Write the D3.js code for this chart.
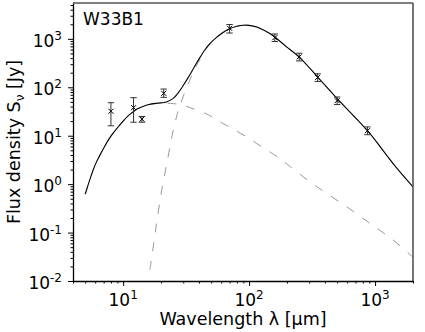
<!DOCTYPE html>
<html><head><meta charset="utf-8">
<script src="https://cdn.jsdelivr.net/npm/d3@7/dist/d3.min.js"></script>
<style>body{margin:0;background:#fff}svg{display:block}text{font-family:"DejaVu Sans",sans-serif}</style>
</head><body><svg id="c" width="425" height="332"></svg>
<script>
// Observed photometry
const obsLam  = [8, 12.1, 14.1, 21, 70, 160, 250, 350, 500, 870];
const obsFlux = [32, 38, 22, 75, 1650, 1060, 425, 160, 53, 12.7];
const obsLo   = [16, 19, 19, 62, 1320, 880, 350, 132, 44, 10.5];
const obsHi   = [48, 61, 25, 92, 1980, 1260, 505, 190, 63, 15.2];
// Total model (solid)
const totLam = [5, 5.5, 6, 7, 8, 10, 11, 12, 13, 14, 16, 18, 20, 22, 25, 27, 29.3, 33, 37, 41, 45, 49, 54, 62, 70, 80, 90, 100, 115, 129, 145, 160, 196, 250, 350, 500, 870, 1400, 2000];
const totS   = [0.62, 1.35, 2.5, 5.5, 9.8, 20, 26, 31, 36, 39, 44, 46.5, 47.6, 49.8, 59, 73, 99, 162, 273, 424, 616, 803, 1022, 1350, 1620, 1820, 1910, 1900, 1760, 1540, 1300, 1090, 700, 420, 163, 58, 12.7, 2.6, 0.88];
// Warm component (dashed)
const warmLam = [5, 5.5, 6, 7, 8, 10, 11, 12, 13, 14, 16, 18, 20, 22, 25, 27.6, 35, 47.7, 54, 70, 93.5, 130, 175, 210, 297, 402, 555, 752, 1000, 1374, 2000];
const warmS   = [0.62, 1.35, 2.5, 5.5, 9.8, 20, 26, 31, 36, 39, 43.5, 45.7, 46.8, 47, 46, 44.6, 37, 26.8, 22, 15, 9.8, 5.6, 3.4, 2.35, 1.17, 0.674, 0.386, 0.221, 0.13, 0.072, 0.031];
// Cold component (dashed)
const coldLam = [16.3, 17.5, 18.6, 20.3, 22.3, 24.4, 26.8, 29.3, 33, 37, 41, 45, 49, 54, 62, 70, 80, 90, 100, 115, 129, 145, 160, 196, 250, 350, 500, 870, 1400, 2000];
const coldS   = [0.0169, 0.060, 0.183, 0.79, 2.8, 9.7, 27, 55, 121, 235, 390, 585, 775, 1000, 1330, 1605, 1805, 1900, 1890, 1755, 1535, 1297, 1088, 698, 418, 162, 58, 12.7, 2.6, 0.88];
// Axes
const xMajor = [10, 100, 1000], xExp = ["1", "2", "3"];
const yMajor = [0.01, 0.1, 1, 10, 100, 1000], yExp = ["-2", "-1", "0", "1", "2", "3"];
const xDomain = [4, 2000], yDomain = [0.01, 5500];
const label = "W33B1";

const W = 425, H = 332, m = {l: 73, r: 12, t: 3, b: 51};
const svg = d3.select("#c");
const x = d3.scaleLog().domain(xDomain).range([m.l, W - m.r]);
const y = d3.scaleLog().domain(yDomain).range([H - m.b, m.t]);

function minorTicks(dom) {
  const out = [];
  for (let e = -3; e <= 4; e++) for (let k = 1; k <= 9; k++) {
    const v = k * Math.pow(10, e);
    if (v >= dom[0] * 0.9999 && v <= dom[1] * 1.0001) out.push(v);
  }
  return out;
}
const xMinor = minorTicks(xDomain).filter(v => !xMajor.some(M => Math.abs(M - v) / M < 1e-6));
const yMinor = minorTicks(yDomain).filter(v => !yMajor.some(M => Math.abs(M - v) / M < 1e-6));

svg.append("clipPath").attr("id", "pc").append("rect")
  .attr("x", m.l).attr("y", m.t).attr("width", W - m.l - m.r).attr("height", H - m.t - m.b);
const g = svg.append("g").attr("clip-path", "url(#pc)");

const line = d3.line().x(d => x(d[0])).y(d => y(d[1])).curve(d3.curveCatmullRom.alpha(0.5));
const zip = (a, b) => a.map((v, i) => [v, b[i]]);

g.append("path").datum(zip(coldLam, coldS)).attr("d", line)
  .attr("fill", "none").attr("stroke", "#999").attr("stroke-width", 1).attr("stroke-dasharray", "9,10");
g.append("path").datum(zip(warmLam, warmS)).attr("d", line)
  .attr("fill", "none").attr("stroke", "#999").attr("stroke-width", 1).attr("stroke-dasharray", "9,10");
g.append("path").datum(zip(totLam, totS)).attr("d", line)
  .attr("fill", "none").attr("stroke", "#000").attr("stroke-width", 1.1);

// error bars and markers
const pts = obsLam.map((l, i) => ({l, f: obsFlux[i], lo: obsLo[i], hi: obsHi[i]}));
const pg = g.append("g").attr("stroke", "#333").attr("stroke-width", 1).attr("fill", "none");
pts.forEach(p => {
  const cx = x(p.l), cy = y(p.f), y1 = y(p.lo), y2 = y(p.hi), cw = 3.2, s = 2.5;
  pg.append("line").attr("x1", cx).attr("x2", cx).attr("y1", y1).attr("y2", y2);
  pg.append("line").attr("x1", cx - cw).attr("x2", cx + cw).attr("y1", y1).attr("y2", y1);
  pg.append("line").attr("x1", cx - cw).attr("x2", cx + cw).attr("y1", y2).attr("y2", y2);
  pg.append("line").attr("x1", cx - s).attr("x2", cx + s).attr("y1", cy - s).attr("y2", cy + s).attr("stroke", "#000");
  pg.append("line").attr("x1", cx - s).attr("x2", cx + s).attr("y1", cy + s).attr("y2", cy - s).attr("stroke", "#000");
});

// spines
svg.append("line").attr("x1", m.l).attr("x2", W - m.r).attr("y1", m.t).attr("y2", m.t).attr("stroke", "#555").attr("stroke-width", 1.6);
svg.append("line").attr("x1", W - m.r).attr("x2", W - m.r).attr("y1", m.t).attr("y2", H - m.b).attr("stroke", "#555").attr("stroke-width", 1.6);

// axes
const ax = svg.append("g").attr("transform", `translate(0,${H - m.b})`);
ax.call(d3.axisBottom(x).tickValues(xMinor).tickSize(2.5).tickFormat("").tickSizeOuter(0));
ax.call(g2 => g2.select(".domain").remove());
const axM = svg.append("g").attr("transform", `translate(0,${H - m.b})`);
axM.call(d3.axisBottom(x).tickValues(xMajor).tickSize(5).tickFormat("").tickSizeOuter(0));
axM.select(".domain").attr("stroke", "#000").attr("stroke-width", 1.3);
const ay = svg.append("g").attr("transform", `translate(${m.l},0)`);
ay.call(d3.axisLeft(y).tickValues(yMinor).tickSize(2.5).tickFormat("").tickSizeOuter(0));
ay.call(g2 => g2.select(".domain").remove());
const ayM = svg.append("g").attr("transform", `translate(${m.l},0)`);
ayM.call(d3.axisLeft(y).tickValues(yMajor).tickSize(5).tickFormat("").tickSizeOuter(0));
ayM.select(".domain").attr("stroke", "#000").attr("stroke-width", 1.3);
svg.selectAll(".tick line").attr("stroke", "#000");

const fs = 17, sfs = 12;
xMajor.forEach((v, i) => {
  const t = svg.append("text").attr("x", x(v)).attr("y", H - m.b + 25).attr("text-anchor", "middle").attr("font-size", fs);
  t.append("tspan").text("10");
  t.append("tspan").attr("dy", -7).attr("font-size", sfs).text(xExp[i]);
});
yMajor.forEach((v, i) => {
  const t = svg.append("text").attr("x", m.l - 11).attr("y", y(v) + 8).attr("text-anchor", "end").attr("font-size", fs);
  t.append("tspan").text("10");
  t.append("tspan").attr("dy", -7).attr("font-size", sfs).text(yExp[i]);
});

// labels
svg.append("text").attr("x", (m.l + W - m.r) / 2).attr("y", 325).attr("text-anchor", "middle").attr("font-size", 17.5)
  .text("Wavelength λ [μm]");
const yl = svg.append("text").attr("transform", `translate(20,${(m.t + H - m.b) / 2}) rotate(-90)`).attr("text-anchor", "middle").attr("font-size", 17.5);
yl.append("tspan").text("Flux density S");
yl.append("tspan").attr("dy", 4).attr("font-size", 12).text("ν");
yl.append("tspan").attr("dy", -4).text(" [Jy]");

svg.append("text").attr("x", 83).attr("y", 25).attr("font-size", 17).text(label);
</script></body></html>
